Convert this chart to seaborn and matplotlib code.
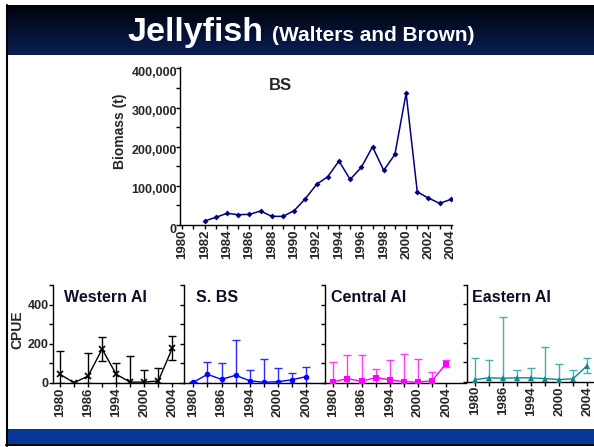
import numpy as np
import pandas as pd
import matplotlib
matplotlib.use("Agg")
import matplotlib.pyplot as plt
from matplotlib.colors import LinearSegmentedColormap
from matplotlib.lines import Line2D
from matplotlib.patches import Rectangle
from matplotlib.ticker import FuncFormatter, MultipleLocator, FixedLocator
from matplotlib.transforms import ScaledTranslation
import seaborn as sns

# Eastern Bering Sea shelf jellyfish biomass (t)
bs_years = list(range(1982, 2005))
bs_biomass = [10200, 19600, 29800, 26400, 27200, 35700, 22100, 22100, 36600,
              67200, 103800, 123400, 163400, 116600, 147200, 200000, 139600,
              180400, 337000, 84200, 68900, 55300, 65500]

# Aleutian Islands / southern Bering Sea survey CPUE with error
ai_years = ["1980", "1983", "1986", "1991", "1994", "1997", "2000", "2002", "2004"]
west_cpue = [43, 0, 34, 172, 43, 3, 3, 9, 177]
west_err = [117, 0, 117, 62, 57, 134, 62, 65, 60]
sbs_cpue = [2, 43, 17, 38, 10, 2, 5, 15, 31]
sbs_err = [0, 63, 86, 182, 55, 120, 71, 37, 48]
cent_cpue = [5, 21, 7, 26, 15, 5, 3, 10, 98]
cent_err = [101, 123, 134, 43, 100, 144, 117, 47, 18]
east_cpue = [10, 19, 17, 19, 19, 15, 10, 14, 82]
east_err = [110, 94, 316, 38, 50, 162, 83, 44, 38]

panel_titles = ["Western AI", "S. BS", "Central AI", "Eastern AI"]

sns.set_style("ticks")
plt.rcParams["font.family"] = ["Liberation Sans", "DejaVu Sans"]
plt.rcParams["font.weight"] = "bold"
plt.rcParams["axes.labelweight"] = "bold"

W, H = 594, 447
fig = plt.figure(figsize=(W / 100, H / 100), dpi=100)
fig.patch.set_facecolor("white")


def box(x0, y0, x1, y1):
    """Pixel box (top-left origin) -> figure-fraction rect."""
    return [x0 / W, 1 - y1 / H, (x1 - x0) / W, (y1 - y0) / H]


# ---- slide header with dark gradient ----
ax_h = fig.add_axes(box(6, 5, 594, 55))
grad = np.linspace(0, 1, 64).reshape(-1, 1)
cmap = LinearSegmentedColormap.from_list("hdr", ["#01030b", "#04102e", "#0b1f55"])
ax_h.imshow(grad, aspect="auto", cmap=cmap, extent=[0, 1, 1, 0])
ax_h.set_axis_off()

fig.text(127 / W, 1 - 41 / H, "Jellyfish", color="white", fontsize=24.5,
         fontweight="bold", ha="left", va="baseline")
fig.text(272 / W, 1 - 41 / H, "(Walters and Brown)", color="white", fontsize=15,
         fontweight="bold", ha="left", va="baseline")

# ---- slide footer bar and left border ----
fig.add_artist(Rectangle((8 / W, 1 - 444 / H), (W - 8) / W, 15 / H,
                         transform=fig.transFigure, facecolor="#0a3797",
                         edgecolor="none"))
fig.add_artist(Line2D([6 / W, 1], [1 - 445 / H, 1 - 445 / H], color="black",
                      lw=1.4, transform=fig.transFigure))
fig.add_artist(Line2D([7 / W, 7 / W], [1 - 5 / H, 1 - 445.5 / H], color="black",
                      lw=1.5, transform=fig.transFigure))

tick_kw = dict(direction="out", length=3, width=1, color="black")

# ---- BS biomass chart ----
ax_bs = fig.add_axes(box(180, 66.5, 452, 225))
ax_bs.set_facecolor("none")
df_bs = pd.DataFrame({"Year": bs_years, "Biomass": bs_biomass})
sns.lineplot(data=df_bs, x="Year", y="Biomass", ax=ax_bs, color="#000080",
             marker="D", markersize=3, markeredgewidth=0, linewidth=1.1)
ax_bs.set_xlim(1979.8, 2004.1)
ax_bs.set_ylim(0, 405000)
ax_bs.xaxis.set_major_locator(FixedLocator(list(range(1980, 2005, 2))))
ax_bs.xaxis.set_minor_locator(FixedLocator(list(range(1981, 2005, 2))))
ax_bs.yaxis.set_major_locator(MultipleLocator(100000))
ax_bs.yaxis.set_minor_locator(MultipleLocator(50000))
ax_bs.yaxis.set_major_formatter(FuncFormatter(lambda v, p: f"{v:,.0f}"))
ax_bs.tick_params(axis="both", which="both", **tick_kw)
ax_bs.tick_params(axis="y", which="major", pad=-0.8, labelsize=9)
ax_bs.tick_params(axis="x", which="major", pad=0.3, labelsize=9.5, labelrotation=90)
for lab in ax_bs.get_xticklabels():
    lab.set_fontweight("bold")
for t in ax_bs.yaxis.get_major_ticks():
    t.label1.set_fontweight("bold")
    t.label1.set_transform(t.label1.get_transform()
                           + ScaledTranslation(0, -3 / 100, fig.dpi_scale_trans))
ax_bs.set_xlabel("")
ax_bs.set_ylabel("Biomass (t)", fontsize=10, fontweight="bold")
ax_bs.yaxis.set_label_coords((127 - 180) / 272, 0.594)
ax_bs.text(0.368, 0.877, "BS", transform=ax_bs.transAxes, fontsize=12,
           fontweight="bold", ha="center", va="center")
sns.despine(ax=ax_bs)
for s in ("left", "bottom"):
    ax_bs.spines[s].set_linewidth(1)
    ax_bs.spines[s].set_color("black")

# ---- Aleutian Islands CPUE panels ----
panels = [
    # (left px, right px, bottom px, xlim, values, errors, line col, err col, marker, title x px)
    (52.7, 184.0, 382.7, (-0.52, 8.83), west_cpue, west_err, "#000000", "#000000", "x", 64),
    (184.0, 325.0, 382.7, (-0.66, 9.34), sbs_cpue, sbs_err, "#0000ff", "#2b2bff", "o", 196),
    (325.0, 466.0, 382.7, (-0.59, 9.41), cent_cpue, cent_err, "#ff00ff", "#ff3cff", "s", 330.7),
    (466.5, 607.5, 381.5, (-0.61, 9.46), east_cpue, east_err, "#0a8a8a", "#48adad", "^", 471.7),
]

pos = np.arange(len(ai_years))
for i, (x0, x1, yb, xlim, vals, errs, col, ecol, mk, tx) in enumerate(panels):
    ax = fig.add_axes(box(x0, 285, x1, yb))
    ax.set_facecolor("none")
    df = pd.DataFrame({"pos": pos, "cpue": vals})
    lower = [min(e, v) for v, e in zip(vals, errs)]
    ax.errorbar(pos, vals, yerr=[lower, errs], fmt="none", ecolor=ecol,
                elinewidth=1, capsize=2.6, capthick=1, zorder=2)
    ms = 5 if mk == "x" else 4
    sns.lineplot(data=df, x="pos", y="cpue", ax=ax, color=col, marker=mk,
                 markersize=ms, markeredgewidth=1.2 if mk == "x" else 0,
                 markeredgecolor=col, linewidth=1, zorder=3)
    ax.set_xlim(*xlim)
    ax.set_ylim(0, 500)
    ax.xaxis.set_major_locator(FixedLocator([0, 2, 4, 6, 8]))
    ax.xaxis.set_minor_locator(FixedLocator([1, 3, 5, 7]))
    ax.set_xticklabels([ai_years[k] for k in (0, 2, 4, 6, 8)])
    ax.yaxis.set_major_locator(MultipleLocator(100))
    ax.tick_params(axis="both", which="both", **tick_kw)
    ax.tick_params(axis="x", which="major", pad=0.3, labelsize=9.5, labelrotation=90)
    ax.tick_params(axis="y", which="major", pad=0, labelsize=9)
    if i == 0:
        ax.yaxis.set_major_formatter(
            FuncFormatter(lambda v, p: f"{int(v)}" if int(v) in (0, 200, 400) else ""))
        ax.set_ylabel("CPUE", fontsize=10, fontweight="bold")
        ax.yaxis.set_label_coords((24.5 - x0) / (x1 - x0), (yb - 330) / (yb - 285))
    else:
        ax.set_yticklabels([])
        ax.set_ylabel("")
    for lab in ax.get_xticklabels() + ax.get_yticklabels():
        lab.set_fontweight("bold")
    ax.set_xlabel("")
    sns.despine(ax=ax)
    for s in ("left", "bottom"):
        ax.spines[s].set_linewidth(1)
        ax.spines[s].set_color("black")
    fig.text(tx / W, 1 - 297.5 / H, panel_titles[i], fontsize=11.5,
             fontweight="bold", color="#0d0d26", ha="left", va="center")

fig.savefig("out.png", dpi=100)
